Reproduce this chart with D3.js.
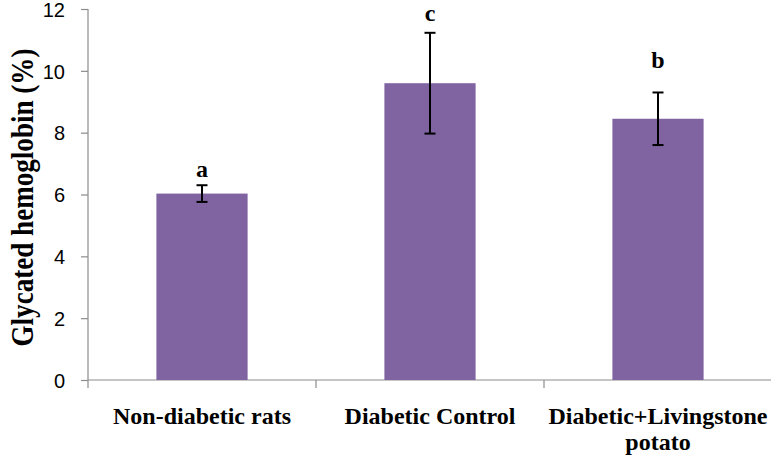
<!DOCTYPE html>
<html>
<head>
<meta charset="utf-8">
<script src="https://cdn.jsdelivr.net/npm/d3@7"></script>
<style>
  html, body { margin: 0; padding: 0; background: #fff; }
  svg { display: block; }
</style>
</head>
<body>
<svg id="chart" width="771" height="458"></svg>
<script>
const categories = [["Non-diabetic rats"], ["Diabetic Control"], ["Diabetic+Livingstone", "potato"]];
const means = [6.03, 9.6, 8.45];
const errors = [0.27, 1.63, 0.85];
const letters = ["a", "c", "b"];
const letterPos = [6.57, 11.6, 10.09];
const yTicks = [0, 2, 4, 6, 8, 10, 12];
const yTitle = "Glycated hemoglobin (%)";

(function () {
const svg = d3.select("#chart");
const mLeft = 88, mRight = 772, mTop = 9, mBottom = 380;

const x = d3.scaleBand().domain(d3.range(categories.length)).range([mLeft, mRight])
  .paddingInner(0.6).paddingOuter(0.3);
const xb = d3.scaleBand().domain(d3.range(categories.length)).range([mLeft, mRight]);
const y = d3.scaleLinear().domain([0, 12]).range([mBottom, mTop]);

const axisColor = "#8c8c8c";

// Y axis
const yAxis = svg.append("g").attr("transform", `translate(${mLeft},0)`)
  .call(d3.axisLeft(y).tickValues(yTicks).tickSize(7).tickPadding(16).tickFormat(d3.format("d")));
yAxis.select(".domain").remove();
yAxis.append("line").attr("x1", 0).attr("x2", 0).attr("y1", mTop).attr("y2", mBottom + 8)
  .attr("stroke", axisColor).attr("stroke-width", 1.2);
yAxis.selectAll(".tick line").attr("stroke", axisColor).attr("stroke-width", 1.2);
yAxis.selectAll(".tick text").attr("fill", "#000").attr("dy", "0.36em")
  .style("font-family", "'Liberation Sans', Arial, sans-serif").style("font-size", "20px");

// X axis line and tick marks at band boundaries
svg.append("line").attr("x1", mLeft).attr("x2", 771).attr("y1", mBottom).attr("y2", mBottom)
  .attr("stroke", axisColor).attr("stroke-width", 1.2);
svg.selectAll(".xtick").data(d3.range(1, categories.length)).enter().append("line")
  .attr("class", "xtick")
  .attr("x1", d => xb(d)).attr("x2", d => xb(d))
  .attr("y1", mBottom).attr("y2", mBottom + 8)
  .attr("stroke", axisColor).attr("stroke-width", 1.2);

// Bars
svg.selectAll(".bar").data(means).enter().append("rect")
  .attr("class", "bar")
  .attr("x", (d, i) => x(i)).attr("width", x.bandwidth())
  .attr("y", d => y(d)).attr("height", d => y(0) - y(d))
  .attr("fill", "#8064A2");

// Error bars
const cap = 5.5;
const eb = svg.selectAll(".eb").data(means).enter().append("g").attr("class", "eb")
  .attr("stroke", "#000").attr("stroke-width", 2);
eb.append("line")
  .attr("x1", (d, i) => x(i) + x.bandwidth() / 2).attr("x2", (d, i) => x(i) + x.bandwidth() / 2)
  .attr("y1", (d, i) => y(d + errors[i])).attr("y2", (d, i) => y(d - errors[i]));
eb.append("line")
  .attr("x1", (d, i) => x(i) + x.bandwidth() / 2 - cap).attr("x2", (d, i) => x(i) + x.bandwidth() / 2 + cap)
  .attr("y1", (d, i) => y(d + errors[i])).attr("y2", (d, i) => y(d + errors[i]));
eb.append("line")
  .attr("x1", (d, i) => x(i) + x.bandwidth() / 2 - cap).attr("x2", (d, i) => x(i) + x.bandwidth() / 2 + cap)
  .attr("y1", (d, i) => y(d - errors[i])).attr("y2", (d, i) => y(d - errors[i]));

// Significance letters
svg.selectAll(".letter").data(letters).enter().append("text")
  .attr("class", "letter")
  .attr("x", (d, i) => x(i) + x.bandwidth() / 2)
  .attr("y", (d, i) => y(letterPos[i]))
  .attr("text-anchor", "middle")
  .style("font-family", "'Liberation Serif', 'Times New Roman', serif")
  .style("font-weight", "bold").style("font-size", "24px")
  .text(d => d);

// Category labels
const lab = svg.selectAll(".cat").data(categories).enter().append("text")
  .attr("class", "cat")
  .attr("text-anchor", "middle")
  .style("font-family", "'Liberation Serif', 'Times New Roman', serif")
  .style("font-weight", "bold").style("font-size", "24px");
lab.each(function(lines, i) {
  const t = d3.select(this);
  lines.forEach((ln, j) => {
    t.append("tspan").attr("x", x(i) + x.bandwidth() / 2).attr("y", 424 + j * 26).text(ln);
  });
});

// Y axis title
svg.append("text")
  .attr("transform", `translate(33,${(mTop + mBottom) / 2 + 3}) rotate(-90)`)
  .attr("text-anchor", "middle")
  .attr("textLength", 298).attr("lengthAdjust", "spacingAndGlyphs")
  .style("font-family", "'Liberation Serif', 'Times New Roman', serif")
  .style("font-weight", "bold").style("font-size", "31px")
  .text(yTitle);
})();
</script>
</body>
</html>
